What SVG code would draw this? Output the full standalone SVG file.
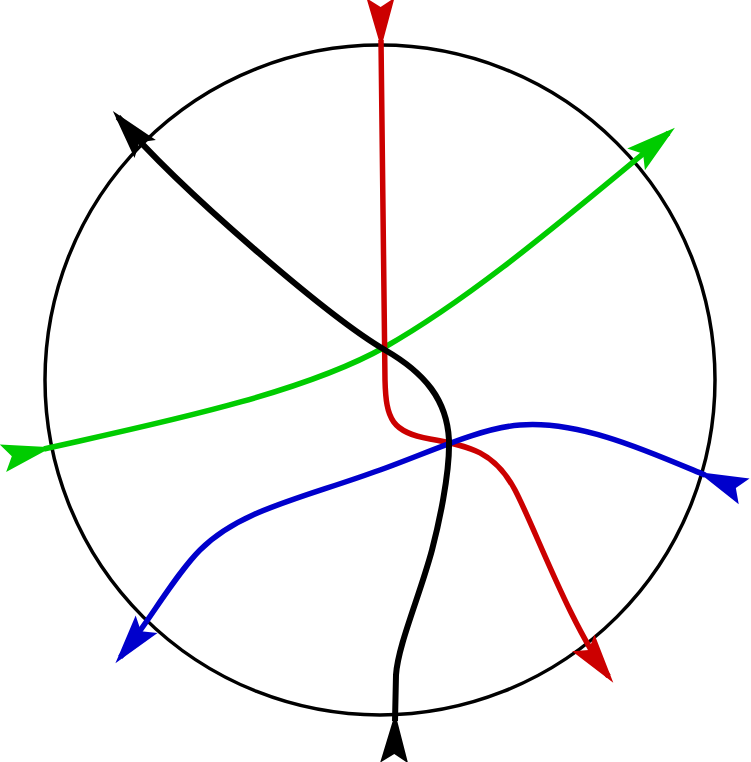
<svg xmlns="http://www.w3.org/2000/svg" width="751" height="762" viewBox="0 0 751 762">
<style>
.curve{fill:none;stroke-width:5.5;stroke-linejoin:round}
.red{stroke:#cc0000;marker-start:url(#ahR);marker-end:url(#ahR)}
.green{stroke:#00cc00;marker-start:url(#ahG);marker-end:url(#ahG)}
.blue{stroke:#0000cc;marker-start:url(#ahB);marker-end:url(#ahB)}
.black{stroke:#000;stroke-width:6;marker-start:url(#ahK);marker-end:url(#ahK)}
</style>
<defs>
<marker id="ahR" markerUnits="userSpaceOnUse" orient="auto" refX="-8" refY="0" markerWidth="10" markerHeight="10" overflow="visible"><path d="M0,0 L-50,-14 L-41,0 L-50,14 Z" fill="#cc0000"/></marker>
<marker id="ahG" markerUnits="userSpaceOnUse" orient="auto" refX="-8" refY="0" markerWidth="10" markerHeight="10" overflow="visible"><path d="M0,0 L-50,-14 L-41,0 L-50,14 Z" fill="#00cc00"/></marker>
<marker id="ahB" markerUnits="userSpaceOnUse" orient="auto" refX="-8" refY="0" markerWidth="10" markerHeight="10" overflow="visible"><path d="M0,0 L-50,-14 L-41,0 L-50,14 Z" fill="#0000cc"/></marker>
<marker id="ahK" markerUnits="userSpaceOnUse" orient="auto" refX="-8" refY="0" markerWidth="10" markerHeight="10" overflow="visible"><path d="M0,0 L-50,-14 L-41,0 L-50,14 Z" fill="#000"/></marker>
</defs>
<rect width="751" height="762" fill="#fff"/>
<g id="circle">
<circle cx="380" cy="380" r="335" fill="none" stroke="#000" stroke-width="3.5"/>
</g>
<g id="connectors">
<path id="green" class="curve green" d="M44,449 C150,425 300,395 385,347 C480,293 580,205 668.7,132.9"/>
<path id="red" class="curve red" d="M381,40 L385,380 C386,420 392,432 430,439 C470,446 495,452 515,490 C535,528 570,625 608.5,676.4"/>
<path id="blue" class="curve blue" d="M705.4,475.2 C650,452 580,420 520,425 C480,428 430,452 380,470 C300,499 240,510 200,550 C175,575 150,620 120.4,657.1"/>
<path id="black" class="curve black" d="M395,721 L396,675 C398,645 420,595 432,550 C438,527 450,475 449,440 C447,400 425,373 385,350 C330,318 180,190 118,117"/>
</g>
</svg>
